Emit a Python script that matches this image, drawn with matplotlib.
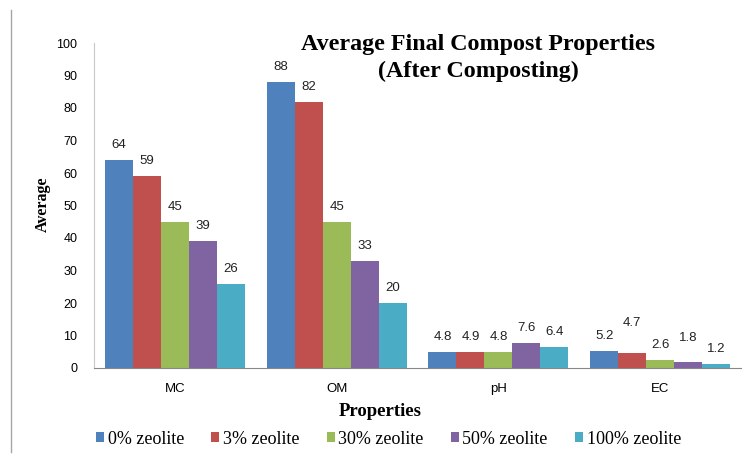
import numpy as np
import matplotlib
matplotlib.use('Agg')
import matplotlib.pyplot as plt
from matplotlib.lines import Line2D

# average compost properties after composting, per zeolite dose
properties = ['MC', 'OM', 'pH', 'EC']
series_names = ['0% zeolite', '3% zeolite', '30% zeolite', '50% zeolite', '100% zeolite']
zeolite_0 = [64, 88, 4.8, 5.2]
zeolite_3 = [59, 82, 4.9, 4.7]
zeolite_30 = [45, 45, 4.8, 2.6]
zeolite_50 = [39, 33, 7.6, 1.8]
zeolite_100 = [26, 20, 6.4, 1.2]
y_ticks = [0, 10, 20, 30, 40, 50, 60, 70, 80, 90, 100]

series = [zeolite_0, zeolite_3, zeolite_30, zeolite_50, zeolite_100]
colors = ['#4F81BD', '#C0504D', '#9BBB59', '#8064A2', '#4BACC6']

# a couple of labels sit higher so they don't collide (series index, category index) -> pixels
label_lift = {(1, 3): 15, (3, 3): 9}

fig = plt.figure(figsize=(7.44, 4.59), dpi=100)
ax = fig.add_axes([94 / 744, 1 - 368 / 459, 647 / 744, 325 / 459])

x = np.arange(len(properties))
width = 0.173
sans = 'Liberation Sans'
serif = 'Liberation Serif'

for i, (vals, c) in enumerate(zip(series, colors)):
    pos = x + (i - 2) * width
    ax.bar(pos, vals, width, color=c, edgecolor='none', label=series_names[i])
    for j, (p, v) in enumerate(zip(pos, vals)):
        ax.annotate('{:g}'.format(v), (p, v),
                    xytext=(0, 15 + label_lift.get((i, j), 0)),
                    textcoords='offset pixels', ha='center', va='center',
                    fontsize=9.5, family=sans, color='#222222')

ax.set_xlim(-0.5, 3.5)
ax.set_ylim(0, 100)
ax.set_yticks(y_ticks)
ax.set_xticks(x)
ax.set_xticklabels(properties, family=sans, fontsize=9.5)
ax.tick_params(axis='y', length=0, pad=12, labelsize=9)
ax.tick_params(axis='x', length=0, pad=11)
for t in ax.get_yticklabels():
    t.set_family(sans)

for s in ['top', 'right']:
    ax.spines[s].set_visible(False)
ax.spines['left'].set_color('#c8c8c8')
ax.spines['bottom'].set_color('#888888')

fig.text(478 / 744, 1 - 58 / 459, 'Average Final Compost Properties\n(After Composting)',
         ha='center', va='center', family=serif, fontweight='bold', fontsize=17.3,
         linespacing=1.3)
fig.text(43 / 744, 1 - 204 / 459, 'Average', rotation=90, ha='center', va='center',
         family=serif, fontweight='bold', fontsize=11.5)
fig.text(380 / 744, 1 - 411 / 459, 'Properties', ha='center', va='center',
         family=serif, fontweight='bold', fontsize=13.5)

fig.legend(loc='center left', bbox_to_anchor=(96 / 744, 1 - 439 / 459), ncol=5,
           frameon=False, borderpad=0, borderaxespad=0, handlelength=0.45,
           handleheight=0.45, handletextpad=0.2, columnspacing=1.5,
           prop={'family': serif, 'size': 13})

# thin border line down the left side
fig.add_artist(Line2D([11 / 744, 11 / 744], [1 - 10 / 459, 1 - 452 / 459],
                      transform=fig.transFigure, color='#a6a6a6', lw=1))

plt.savefig('out.png', dpi=100)
